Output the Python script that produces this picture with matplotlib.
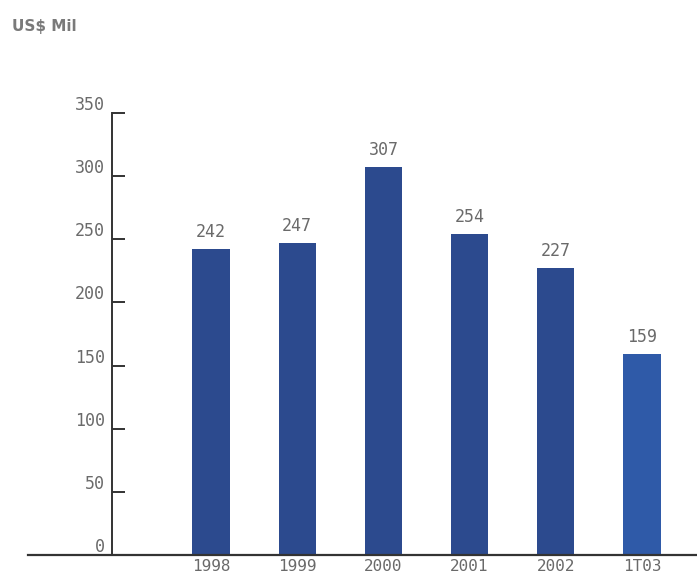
import matplotlib
matplotlib.use('Agg')
import matplotlib.pyplot as plt
from matplotlib.transforms import ScaledTranslation

# revenue per period, US$ millions
periods = ['1998', '1999', '2000', '2001', '2002', '1T03']
values = [242, 247, 307, 254, 227, 159]
yticks = [0, 50, 100, 150, 200, 250, 300, 350]

dark_blue = '#2c4a8e'
last_blue = '#2f5aa8'
grey = '#6a6a6a'
colors = [dark_blue] * 5 + [last_blue]

plt.rcParams['font.family'] = ['DejaVu Sans Mono', 'DejaVu Sans']

fig = plt.figure(figsize=(6.97, 5.81), dpi=100)
ax = fig.add_axes([0.0402, 0.04475, 0.9598, 0.7608])

x = list(range(len(periods)))
ax.bar(x, values, width=0.43, color=colors, zorder=2)

for xi, v in zip(x, values):
    ax.annotate(str(v), (xi, v), xytext=(0, 6), textcoords='offset points',
                ha='center', va='bottom', fontsize=12, color=grey,
                annotation_clip=False)

ax.set_xlim(-2.123, 5.638)
ax.set_ylim(0, 350)

for s in ['top', 'right']:
    ax.spines[s].set_visible(False)
ax.spines['left'].set_position(('axes', 0.1256))
ax.spines['left'].set_bounds(0, 350)
ax.spines['left'].set_color('#333333')
ax.spines['left'].set_linewidth(1.4)
ax.spines['bottom'].set_color('#333333')
ax.spines['bottom'].set_linewidth(1.6)

ax.set_yticks(yticks)
ax.set_yticklabels([str(t) for t in yticks])
ax.tick_params(axis='y', direction='in', length=9.5, width=1.4,
               color='#333333', labelsize=12, labelcolor=grey, pad=5)
# numbers sit a little above their tick marks
shift = ScaledTranslation(0, 7.2 / 72, fig.dpi_scale_trans)
for lbl in ax.get_yticklabels():
    lbl.set_transform(lbl.get_transform() + shift)

ax.set_xticks(x)
ax.set_xticklabels(periods)
ax.tick_params(axis='x', length=0, labelsize=11.5, labelcolor=grey, pad=3)

fig.text(12 / 697, 1 - 26 / 581, 'US$ Mil', fontsize=11, color='#7a7a7a',
         fontweight='bold', family='DejaVu Sans', va='center', ha='left')

fig.savefig('out.png', dpi=100)
